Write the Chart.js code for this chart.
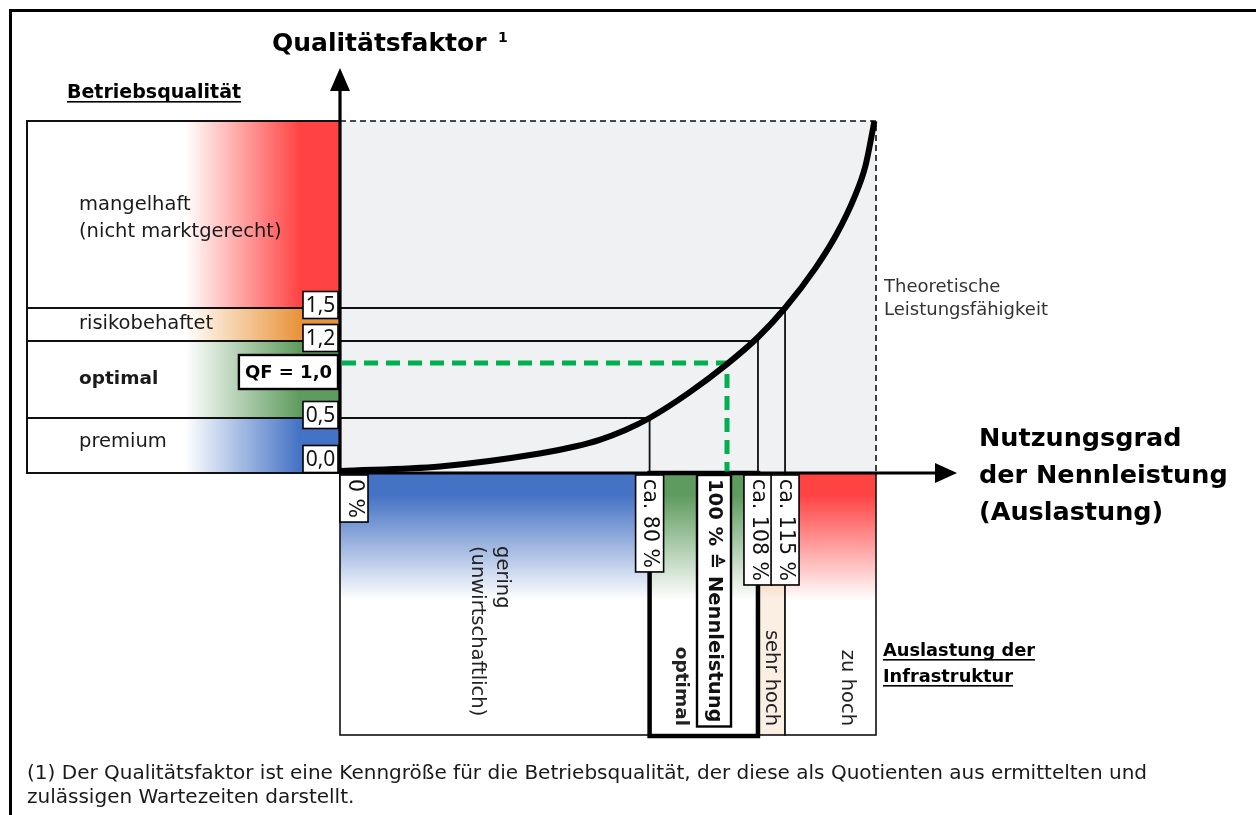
<!DOCTYPE html>
<html><head><meta charset="utf-8">
<script src="https://cdn.jsdelivr.net/npm/chart.js@4.4.1/dist/chart.umd.min.js"></script>
<style>html,body{margin:0;padding:0;background:#fff;}canvas{display:block}</style>
</head><body>
<canvas id="c" width="1256" height="815"></canvas>
<script>
// ---- data ----
const curveLoad = [0, 25.8, 51.6, 60.7, 67.1, 73.6, 80, 90.3, 100, 108, 115, 122.9, 128.3, 132.9, 135.8, 138.1];
const curveQF   = [0.018, 0.059, 0.177, 0.241, 0.302, 0.389, 0.5, 0.733, 0.99, 1.234, 1.5, 1.865, 2.17, 2.506, 2.796, 3.2];
const qualityBounds = [0, 0.5, 1.2, 1.5, 3.2];
const qualityNames = ['premium', 'optimal', 'risikobehaftet', 'mangelhaft\n(nicht marktgerecht)'];
const qualityTicks = [0, 0.5, 1.2, 1.5];
const qualityTickLabels = ['0,0', '0,5', '1,2', '1,5'];
const loadBounds = [0, 80, 108, 115, 138.5];
const loadNames = ['gering\n(unwirtschaftlich)', 'optimal', 'sehr hoch', 'zu hoch'];
const loadTicks = [0, 80, 100, 108, 115];
const loadTickLabels = ['0 %', 'ca. 80 %', '100 % \u2259 Nennleistung', 'ca. 108 %', 'ca. 115 %'];
const refPointsLoad = [80, 108, 115];
const refPointsQF = [0.5, 1.2, 1.5];
const nominalLoad = 100;
const nominalQF = 1.0;
const nominalLabel = 'QF = 1,0';
const theoreticalLoad = 138.5;
const theoreticalQF = 3.2;

// ---- styles ----
const FONT = "'DejaVu Sans', 'Noto Sans', sans-serif";
const TICKFONT = "'Noto Sans', 'DejaVu Sans', sans-serif";
const qualityColors = ['#4472c4', '#5e9b5e', '#e8943a', '#ff4343'];
const qualityBold = [false, true, false, false];
const qualityNameDy = [-4, 0, -1, 4];
const loadColors = ['#4472c4', '#5e9b5e', '#e8943a', '#ff4343'];
const loadFadeTo = ['#ffffff', '#ffffff', '#fbeee3', '#ffffff'];
const loadBold = [false, true, false, false];
const loadNameAlign = ['start', 'end', 'end', 'end'];
const loadNameDx = [-5, -23, 0, 17];
const loadTickAlign = ['start', 'center', 'end', 'center', 'center'];
const loadTickBold = [false, false, true, false, false];
const PANEL_LEFT = 27, ZONE_BOTTOM = 735;

function rotText(ctx, lines, xc, y, align, lh) {
  const n = lines.length;
  ctx.save();
  ctx.translate(xc + (n - 1) * lh / 2, y);
  ctx.rotate(Math.PI / 2);
  ctx.textAlign = align === 'start' ? 'left' : (align === 'end' ? 'right' : 'center');
  ctx.textBaseline = 'middle';
  lines.forEach((t, i) => ctx.fillText(t, 0, i * lh));
  ctx.restore();
}
function underlined(ctx, lines, x, y0, lh) {
  lines.forEach((t, i) => {
    const y = y0 + i * lh;
    ctx.fillText(t, x, y);
    const w = ctx.measureText(t).width;
    ctx.fillRect(x, y + 3, w, 1.6);
  });
}

const diagram = {
  id: 'diagram',
  beforeDatasetsDraw(chart) {
    const ctx = chart.ctx, xs = chart.scales.x, ys = chart.scales.y;
    const px = v => xs.getPixelForValue(v), py = v => ys.getPixelForValue(v);
    const x0 = px(0), y0 = py(0);
    ctx.save();
    ctx.fillStyle = '#f0f1f3';
    ctx.fillRect(x0, py(theoreticalQF), px(theoreticalLoad) - x0, y0 - py(theoreticalQF));
    for (let i = 0; i < qualityNames.length; i++) {
      const top = py(qualityBounds[i + 1]), bot = py(qualityBounds[i]);
      const g = ctx.createLinearGradient(185, 0, 300, 0);
      g.addColorStop(0, '#ffffff'); g.addColorStop(1, qualityColors[i]);
      ctx.fillStyle = g;
      ctx.fillRect(PANEL_LEFT, top, x0 - PANEL_LEFT, bot - top);
      ctx.strokeStyle = '#111'; ctx.lineWidth = 2;
      ctx.strokeRect(PANEL_LEFT, top, x0 - PANEL_LEFT, bot - top);
    }
    for (let i = 0; i < loadNames.length; i++) {
      const a = px(loadBounds[i]), b = px(loadBounds[i + 1]);
      const g = ctx.createLinearGradient(0, y0 + 22, 0, 600);
      g.addColorStop(0, loadColors[i]); g.addColorStop(1, loadFadeTo[i]);
      ctx.fillStyle = g;
      ctx.fillRect(a, y0, b - a, ZONE_BOTTOM - y0);
      ctx.strokeStyle = '#111'; ctx.lineWidth = 1.6;
      ctx.strokeRect(a, y0, b - a, ZONE_BOTTOM - y0);
    }
    ctx.lineWidth = 4.5; ctx.strokeStyle = '#000';
    ctx.strokeRect(px(loadBounds[1]), y0, px(loadBounds[2]) - px(loadBounds[1]), ZONE_BOTTOM - y0 + 1);
    ctx.lineWidth = 1.8; ctx.strokeStyle = '#111';
    refPointsLoad.forEach((l, i) => {
      ctx.beginPath();
      ctx.moveTo(x0, py(refPointsQF[i]));
      ctx.lineTo(px(l), py(refPointsQF[i]));
      ctx.lineTo(px(l), y0);
      ctx.stroke();
    });
    ctx.setLineDash([6, 4]); ctx.lineWidth = 1.6;
    ctx.beginPath();
    ctx.moveTo(x0, py(theoreticalQF));
    ctx.lineTo(px(theoreticalLoad), py(theoreticalQF));
    ctx.lineTo(px(theoreticalLoad), y0);
    ctx.stroke();
    ctx.setLineDash([14, 8]); ctx.lineWidth = 5; ctx.strokeStyle = '#00b050';
    ctx.beginPath();
    ctx.moveTo(x0 + 2, py(nominalQF));
    ctx.lineTo(px(nominalLoad), py(nominalQF));
    ctx.lineTo(px(nominalLoad), y0);
    ctx.stroke();
    ctx.restore();
  },
  afterDatasetsDraw(chart) {
    const ctx = chart.ctx, xs = chart.scales.x, ys = chart.scales.y;
    const px = v => xs.getPixelForValue(v), py = v => ys.getPixelForValue(v);
    const x0 = px(0), y0 = py(0);
    ctx.save();
    ctx.fillStyle = '#000'; ctx.strokeStyle = '#000';
    ctx.lineWidth = 3.2;
    ctx.beginPath(); ctx.moveTo(x0, y0 + 1); ctx.lineTo(x0, 89); ctx.stroke();
    ctx.beginPath(); ctx.moveTo(x0 - 10, 91); ctx.lineTo(x0 + 10, 91); ctx.lineTo(x0, 68); ctx.closePath(); ctx.fill();
    ctx.beginPath(); ctx.moveTo(x0 - 1, y0); ctx.lineTo(936, y0); ctx.stroke();
    ctx.beginPath(); ctx.moveTo(935, y0 - 10); ctx.lineTo(935, y0 + 10); ctx.lineTo(957, y0); ctx.closePath(); ctx.fill();

    ctx.font = '21px ' + TICKFONT; ctx.textAlign = 'center'; ctx.textBaseline = 'middle';
    qualityTicks.forEach((v, i) => {
      const cy = Math.min(py(v) - 3, y0 - 14);
      const w = 35, h = 27, bx = x0 - 2 - w;
      ctx.fillStyle = '#fff'; ctx.fillRect(bx, cy - h / 2, w, h);
      ctx.lineWidth = 1.6; ctx.strokeRect(bx, cy - h / 2, w, h);
      ctx.fillStyle = '#111'; ctx.fillText(qualityTickLabels[i], bx + w / 2, cy + 1);
    });
    ctx.font = 'bold 18px ' + FONT;
    {
      const w = ctx.measureText(nominalLabel).width + 12, h = 34;
      const bx = x0 - 2 - w, by = py(nominalQF) - 8;
      ctx.fillStyle = '#fff'; ctx.fillRect(bx, by, w, h);
      ctx.lineWidth = 2.4; ctx.strokeRect(bx, by, w, h);
      ctx.fillStyle = '#000'; ctx.fillText(nominalLabel, bx + w / 2, by + h / 2 + 1);
    }
    ctx.textAlign = 'left'; ctx.fillStyle = '#1a1a1a';
    qualityNames.forEach((name, i) => {
      const lines = name.split('\n');
      const mid = (py(qualityBounds[i]) + py(qualityBounds[i + 1])) / 2 + qualityNameDy[i];
      ctx.font = (qualityBold[i] ? 'bold 18.5px ' : '19.5px ') + FONT;
      const lh = 27;
      lines.forEach((t, k) => ctx.fillText(t, 79, mid + (k - (lines.length - 1) / 2) * lh));
    });

    loadTicks.forEach((v, i) => {
      ctx.font = (loadTickBold[i] ? 'bold 19.5px ' : '20.5px ') + FONT;
      const tw = ctx.measureText(loadTickLabels[i]).width;
      const w = loadTickBold[i] ? 34 : 28, h = tw + 8;
      const lx = px(v);
      let bx = lx - w / 2;
      if (loadTickAlign[i] === 'start') bx = lx;
      if (loadTickAlign[i] === 'end') bx = lx + 4 - w;
      const by = y0 + 2;
      ctx.fillStyle = '#fff'; ctx.fillRect(bx, by, w, h);
      ctx.lineWidth = loadTickBold[i] ? 2.4 : 1.6; ctx.strokeStyle = '#000';
      ctx.strokeRect(bx, by, w, h);
      ctx.fillStyle = '#111';
      rotText(ctx, [loadTickLabels[i]], bx + w / 2, by + h / 2, 'center', 0);
    });
    loadNames.forEach((name, i) => {
      ctx.font = (loadBold[i] ? 'bold 18.5px ' : '19.5px ') + FONT;
      ctx.fillStyle = '#222';
      const xc = (px(loadBounds[i]) + px(loadBounds[i + 1])) / 2 + loadNameDx[i];
      const y = loadNameAlign[i] === 'start' ? 546 : 726;
      rotText(ctx, name.split('\n'), xc, y, loadNameAlign[i], 25);
    });

    ctx.textAlign = 'left'; ctx.textBaseline = 'alphabetic'; ctx.fillStyle = '#000';
    ctx.font = 'bold 25px ' + FONT;
    ctx.fillText('Qualit\u00e4tsfaktor', 272, 51);
    ctx.font = 'bold 14px ' + FONT;
    ctx.fillText('1', 498, 42);
    ctx.font = 'bold 19px ' + FONT;
    underlined(ctx, ['Betriebsqualit\u00e4t'], 67, 98, 0);
    ctx.font = 'bold 17.8px ' + FONT;
    underlined(ctx, ['Auslastung der', 'Infrastruktur'], 883, 656, 26);
    ctx.font = 'bold 25.5px ' + FONT;
    ['Nutzungsgrad', 'der Nennleistung', '(Auslastung)'].forEach((t, i) => ctx.fillText(t, 979, 446 + i * 37));
    ctx.font = '18px ' + FONT; ctx.fillStyle = '#333';
    ctx.fillText('Theoretische', 884, 292);
    ctx.fillText('Leistungsf\u00e4higkeit', 884, 315);
    ctx.fillStyle = '#1a1a1a';
    const foot1 = '(1) Der Qualit\u00e4tsfaktor ist eine Kenngr\u00f6\u00dfe f\u00fcr die Betriebsqualit\u00e4t, der diese als Quotienten aus ermittelten und';
    ctx.font = '18px ' + FONT;
    const fs = 18 * 1121 / ctx.measureText(foot1).width;
    ctx.font = fs.toFixed(2) + 'px ' + FONT;
    ctx.fillText(foot1, 27, 779);
    ctx.fillText('zul\u00e4ssigen Wartezeiten darstellt.', 27, 803);
    ctx.fillStyle = '#000';
    ctx.fillRect(9, 9, 1256 - 9, 3);
    ctx.fillRect(9, 9, 3, 815 - 9);
    ctx.restore();
  }
};

new Chart(document.getElementById('c'), {
  type: 'line',
  data: {
    datasets: [{
      data: curveLoad.map((x, i) => ({ x, y: curveQF[i] })),
      borderColor: '#000', borderWidth: 6, pointRadius: 0,
      cubicInterpolationMode: 'monotone', fill: false, clip: false
    }]
  },
  options: {
    responsive: false, devicePixelRatio: 1, animation: false,
    layout: { padding: { left: 340, right: 1256 - 876, top: 121, bottom: 815 - 473 } },
    plugins: { legend: { display: false }, tooltip: { enabled: false } },
    scales: {
      x: { type: 'linear', min: 0, max: theoreticalLoad, display: false },
      y: { type: 'linear', min: 0, max: theoreticalQF, display: false }
    }
  },
  plugins: [diagram]
});
</script>
</body></html>
